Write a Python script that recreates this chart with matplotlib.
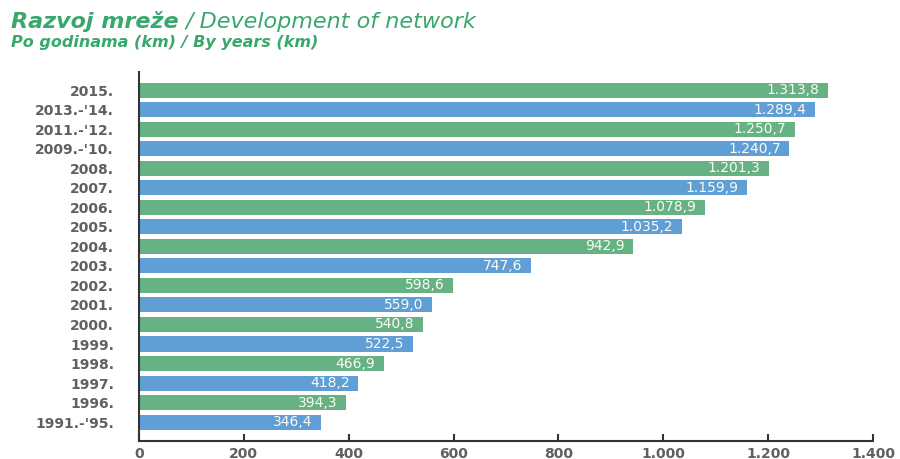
import numpy as np
import matplotlib.pyplot as plt

years = ['1991.-\'95.', '1996.', '1997.', '1998.', '1999.', '2000.', '2001.', '2002.', '2003.',
         '2004.', '2005.', '2006.', '2007.', '2008.', '2009.-\'10.', '2011.-\'12.', '2013.-\'14.', '2015.']
km = [346.4, 394.3, 418.2, 466.9, 522.5, 540.8, 559.0, 598.6, 747.6,
      942.9, 1035.2, 1078.9, 1159.9, 1201.3, 1240.7, 1250.7, 1289.4, 1313.8]
xticks = [0, 200, 400, 600, 800, 1000, 1200, 1400]

green = '#66b285'
blue = '#5f9fd6'
gray = '#606060'
title_green = '#38a86c'


def fmt(v, dec=1):
    s = f"{v:,.{dec}f}"
    return s.replace(',', 'X').replace('.', ',').replace('X', '.')


fig = plt.figure(figsize=(9, 4.59), dpi=100)
ax = fig.add_axes([0.1544, 0.039, 0.8156, 0.804])

y = np.arange(len(years))
colors = [blue if i % 2 == 0 else green for i in range(len(years))]
ax.barh(y, km, height=0.77, color=colors)

for i, v in enumerate(km):
    ax.annotate(fmt(v), xy=(v, i), xytext=(-6, 0), textcoords='offset points',
                ha='right', va='center', color='#fbfbf0', fontsize=10,
                family='DejaVu Sans')

ax.set_xlim(0, 1400)
ax.set_ylim(-0.97, 17.92)
ax.set_yticks(y)
ax.set_yticklabels(years, family='DejaVu Sans', fontweight='bold', fontsize=10, color=gray)
ax.set_xticks(xticks)
ax.set_xticklabels([fmt(t, 0) for t in xticks], family='DejaVu Sans', fontweight='bold',
                   fontsize=10, color=gray)
ax.tick_params(axis='y', length=0, pad=18)
ax.tick_params(axis='x', direction='in', length=5, width=1.5, color='#333333', pad=4)
ax.spines['top'].set_visible(False)
ax.spines['right'].set_visible(False)
ax.spines['left'].set_linewidth(1.5)
ax.spines['bottom'].set_linewidth(1.5)
ax.spines['left'].set_color('#333333')
ax.spines['bottom'].set_color('#333333')

t1 = fig.text(0.012, 0.94, 'Razvoj mreže', fontsize=16, style='italic', fontweight='bold',
              color=title_green, family='DejaVu Sans', va='baseline')
fig.canvas.draw()
bb = t1.get_window_extent().transformed(fig.transFigure.inverted())
fig.text(bb.x1 + 0.008, 0.94, '/ Development of network', fontsize=16, style='italic',
         color=title_green, family='DejaVu Sans', va='baseline')
fig.text(0.012, 0.897, 'Po godinama (km) / By years (km)', fontsize=11.5, style='italic',
         fontweight='bold', color=title_green, family='DejaVu Sans', va='baseline')

fig.savefig('out.png', dpi=100)
